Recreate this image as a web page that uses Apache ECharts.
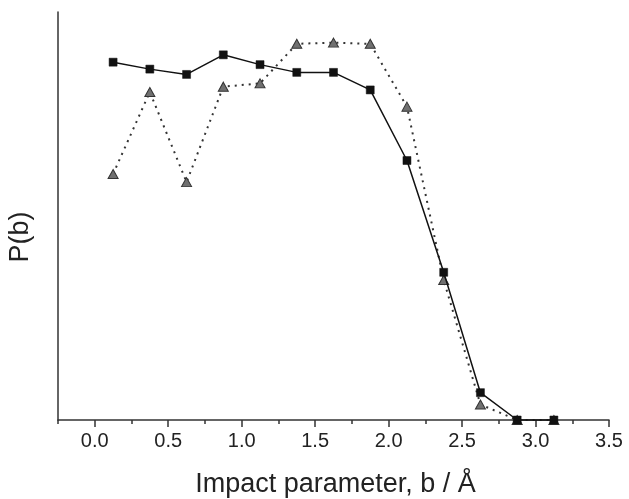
<!DOCTYPE html>
<html>
<head>
<meta charset="utf-8">
<script src="https://cdn.jsdelivr.net/npm/echarts@6/dist/echarts.min.js"></script>
<style>
  html, body { margin: 0; padding: 0; background: #fff; }
  #main { width: 629px; height: 499px; }
</style>
</head>
<body>
<div id="main"></div>
<script>
// impact parameter b (Å)
var bValues = [0.125, 0.375, 0.625, 0.875, 1.125, 1.375, 1.625, 1.875, 2.125, 2.375, 2.625, 2.875, 3.125];
// P(b), squares (solid line)
var squareP = [0.877, 0.860, 0.847, 0.895, 0.871, 0.852, 0.852, 0.809, 0.636, 0.362, 0.067, 0, 0];
// P(b), triangles (dotted line)
var triangleP = [0.603, 0.804, 0.583, 0.817, 0.825, 0.922, 0.925, 0.922, 0.768, 0.343, 0.038, 0, 0];
// x tick labels and minor ticks
var majorTicks = [0.0, 0.5, 1.0, 1.5, 2.0, 2.5, 3.0, 3.5];
var minorTicks = [-0.25, 0.25, 0.75, 1.25, 1.75, 2.25, 2.75, 3.25];

function pairs(xs, ys) {
	return xs.map(function (x, i) { return [x, ys[i]]; });
}

var chart = echarts.init(document.getElementById('main'));

var font = 'Liberation Sans, Arial, sans-serif';
var axisColor = '#333';

var option = {
	backgroundColor: '#ffffff',
	animation: false,
	grid: {
		left: 58,
		right: 20,
		top: 12,
		bottom: 79,
		outerBoundsMode: 'none'
	},
	xAxis: [{
		type: 'value',
		min: -0.25,
		max: 3.5,
		name: 'Impact parameter, b / Å',
		nameLocation: 'middle',
		nameGap: 51,
		nameTextStyle: { fontFamily: font, fontSize: 27, color: '#222', padding: [0, 0, 0, 4] },
		splitLine: { show: false },
		axisLine: { show: true, onZero: false, lineStyle: { color: axisColor, width: 1.5 } },
		axisTick: {
			show: true,
			length: 7,
			customValues: majorTicks,
			lineStyle: { color: axisColor, width: 1.5 }
		},
		axisLabel: {
			customValues: majorTicks,
			fontFamily: font,
			fontSize: 20,
			color: '#222',
			margin: 11,
			formatter: function (v) { return v.toFixed(1); }
		}
	}, {
		type: 'value',
		min: -0.25,
		max: 3.5,
		position: 'bottom',
		splitLine: { show: false },
		axisLine: { show: false, onZero: false },
		axisLabel: { show: false },
		axisTick: {
			show: true,
			length: 4,
			customValues: minorTicks,
			lineStyle: { color: axisColor, width: 1.5 }
		}
	}],
	yAxis: {
		type: 'value',
		min: 0,
		max: 1,
		name: 'P(b)',
		nameLocation: 'middle',
		nameGap: 24,
		nameTextStyle: { fontFamily: font, fontSize: 27, color: '#222', padding: [0, 42, 0, 0] },
		splitLine: { show: false },
		axisLine: { show: true, onZero: false, lineStyle: { color: axisColor, width: 1.5 } },
		axisTick: { show: false },
		axisLabel: { show: false }
	},
	series: [{
		type: 'line',
		data: pairs(bValues, triangleP),
		symbol: 'triangle',
		symbolSize: [10, 9],
		clip: false,
		lineStyle: { color: '#333', width: 2, type: [2, 5] },
		itemStyle: { color: '#707070', borderColor: '#333', borderWidth: 1 },
		z: 2
	}, {
		type: 'line',
		data: pairs(bValues, squareP),
		symbol: 'rect',
		symbolSize: 8,
		clip: false,
		lineStyle: { color: '#111', width: 1.5 },
		itemStyle: { color: '#111', borderColor: '#111', borderWidth: 0.5 },
		z: 3
	}]
};

chart.setOption(option);
</script>
</body>
</html>
